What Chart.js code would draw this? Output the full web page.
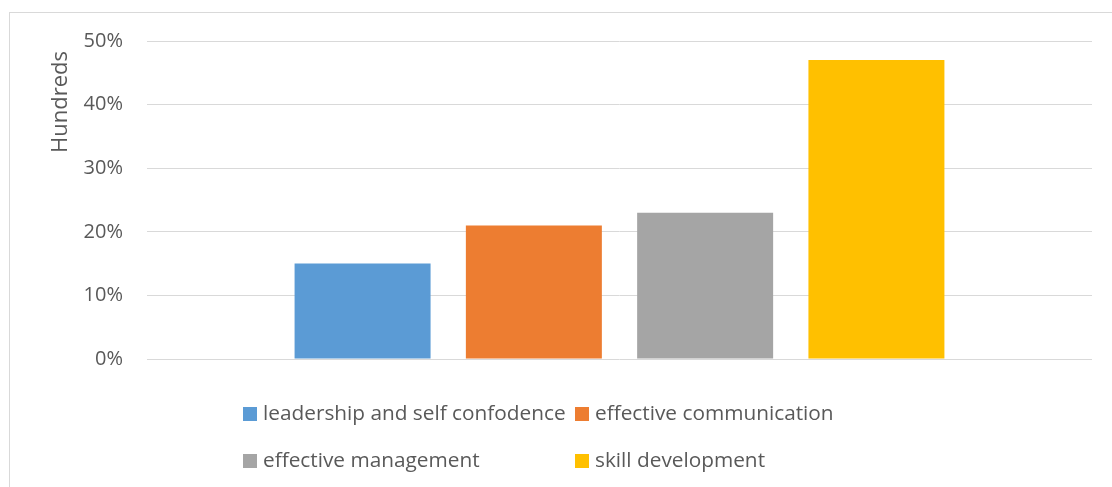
<!DOCTYPE html>
<html>
<head>
<meta charset="utf-8">
<script src="https://cdn.jsdelivr.net/npm/chart.js@4"></script>
<style>
  html, body { margin: 0; padding: 0; background: #ffffff; }
  #wrap { position: relative; width: 1112px; height: 487px; }
  canvas { display: block; }
</style>
</head>
<body>
<div id="wrap"><canvas id="c" width="1112" height="487"></canvas></div>
<script>
// Survey results: share of respondents per training area
const categories = [''];
const seriesNames = [
  'leadership and self confodence',
  'effective communication',
  'effective management',
  'skill development'
];
const seriesValues = [0.15, 0.21, 0.23, 0.47];
const seriesColors = ['#5B9BD5', '#ED7D31', '#A5A5A5', '#FFC000'];
const yTicks = [0, 0.1, 0.2, 0.3, 0.4, 0.5];
const yTitle = 'Hundreds';

const textColor = '#595959';
const fontFamily = '"Open Sans", "Liberation Sans", sans-serif';

const datasets = seriesNames.map((name, i) => ({
  label: name,
  data: [seriesValues[i]],
  backgroundColor: seriesColors[i],
  borderWidth: 0,
  categoryPercentage: 0.725,
  barPercentage: 0.794
}));

// Outer frame, axis title and a two-column legend drawn on the canvas
const decorations = {
  id: 'decorations',
  beforeDraw(chart) {
    const ctx = chart.ctx;
    ctx.save();
    ctx.strokeStyle = '#d9d9d9';
    ctx.lineWidth = 1;
    ctx.strokeRect(9.5, 12.5, 1200, 600);
    ctx.restore();
  },
  afterDraw(chart) {
    const ctx = chart.ctx;
    ctx.save();
    // rotated y-axis title near the top of the axis
    ctx.fillStyle = textColor;
    ctx.font = '22px ' + fontFamily;
    ctx.translate(61, 102);
    ctx.rotate(-Math.PI / 2);
    ctx.textAlign = 'center';
    ctx.textBaseline = 'middle';
    ctx.fillText(yTitle, 0, 0);
    ctx.restore();

    // legend: 2 columns x 2 rows
    const colX = [243, 575];
    const rowY = [414, 461];
    ctx.save();
    ctx.font = '20.8px ' + fontFamily;
    ctx.textBaseline = 'middle';
    ctx.textAlign = 'left';
    chart.data.datasets.forEach((ds, i) => {
      const x = colX[i % 2];
      const y = rowY[Math.floor(i / 2)];
      ctx.fillStyle = ds.backgroundColor;
      ctx.fillRect(x, y - 7, 14, 14);
      ctx.fillStyle = textColor;
      ctx.fillText(ds.label, x + 20, y);
    });
    ctx.restore();
  }
};

new Chart(document.getElementById('c'), {
  type: 'bar',
  data: { labels: categories, datasets },
  options: {
    responsive: false,
    animation: false,
    devicePixelRatio: 1,
    layout: { padding: { left: 0, right: 20, top: 41, bottom: 128 } },
    plugins: {
      legend: { display: false },
      tooltip: { enabled: false }
    },
    scales: {
      x: {
        display: false
      },
      y: {
        min: 0,
        max: 0.5,
        afterBuildTicks(scale) {
          scale.ticks = yTicks.map(v => ({ value: v }));
        },
        afterFit(scale) { scale.width = 147; },
        border: { display: false },
        grid: { color: '#d9d9d9', lineWidth: 1, drawTicks: false },
        ticks: {
          color: textColor,
          font: { size: 20, family: fontFamily },
          padding: 24,
          callback: v => Math.round(v * 100) + '%'
        }
      }
    }
  },
  plugins: [decorations]
});
</script>
</body>
</html>
